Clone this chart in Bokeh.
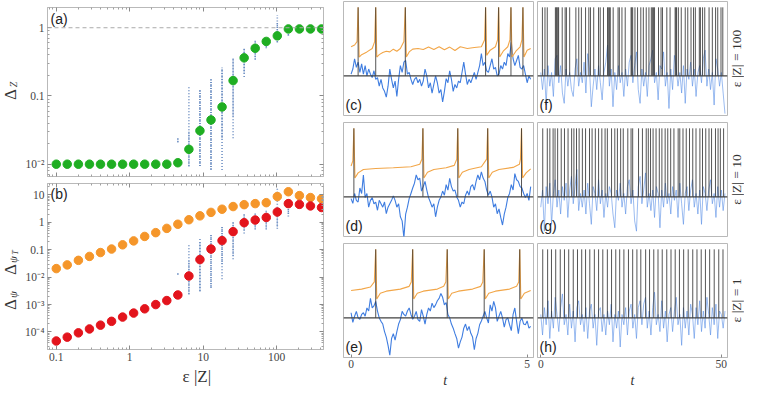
import math
import numpy as np
from bokeh.plotting import figure
from bokeh.layouts import row, column
from bokeh.models import Span, Label, FixedTicker, CustomJSTickFormatter, Range1d, LogAxis
from bokeh.embed import file_html
from bokeh.resources import INLINE

# ---------------- data: panel (a) and (b) ----------------
eps_Z = [0.1, 0.141, 0.2, 0.283, 0.4, 0.566, 0.8, 1.131, 1.6, 2.263, 3.2, 4.525,
         6.4, 9.051, 12.8, 18.1, 25.6, 36.2, 51.2, 72.4, 102.4, 144.8, 204.8, 289.6, 409.6]
delta_Z = [0.01, 0.01, 0.01, 0.01, 0.01, 0.01, 0.01, 0.01, 0.01, 0.01, 0.01, 0.0105,
           0.0165, 0.031, 0.0445, 0.069, 0.168, 0.362, 0.50, 0.63, 0.76, 0.96, 0.96, 0.96, 0.96]
delta_psiT = [0.0205, 0.028, 0.041, 0.057, 0.079, 0.106, 0.151, 0.21, 0.305, 0.42, 0.60, 0.85,
              1.24, 1.72, 2.3, 3.0, 3.75, 4.4, 4.8, 5.2, 8.7, 13.0, 9.4, 8.0, 7.2]
delta_psi = [4.7e-5, 6.5e-5, 9.3e-5, 1.29e-4, 1.78e-4, 2.45e-4, 3.5e-4, 4.9e-4, 7.0e-4, 1.0e-3,
             1.4e-3, 2.24e-3, 0.011, 0.0437, 0.106, 0.215, 0.457, 0.97, 1.21, 1.5, 2.37, 4.8, 4.5, 3.96, 3.46]

# spread of single realisations (blue dots) per eps|Z|
spread_x = [4.525, 6.4, 9.051, 12.8, 18.1, 25.6, 36.2, 51.2, 72.4, 102.4, 144.8]
zspread_lo = [0.021, 0.0093, 0.0094, 0.0082, 0.0082, 0.024, 0.19, 0.34, 0.50, 0.61, 0.76]
zspread_hi = [0.024, 0.143, 0.122, 0.177, 0.26, 0.36, 0.51, 0.65, 0.72, 1.54, 1.11]
zcore_lo = [0.021, 0.0093, 0.0094, 0.0085, 0.024, 0.05, 0.22, 0.35, 0.52, 0.62, 0.78]
zcore_hi = [0.024, 0.03, 0.12, 0.17, 0.26, 0.36, 0.50, 0.64, 0.70, 1.2, 1.05]
pspread_lo = [0.0125, 0.0024, 0.0031, 0.0043, 0.0084, 0.045, 0.39, 0.55, 0.55, 0.58, 1.63]
pspread_hi = [0.0145, 0.164, 0.246, 0.40, 0.76, 1.0, 2.13, 2.13, 2.64, 18.5, 7.2]
pcore_lo = [0.0125, 0.0024, 0.003, 0.004, 0.03, 0.06, 0.5, 0.6, 0.6, 0.7, 2.0]
pcore_hi = [0.0145, 0.04, 0.2, 0.35, 0.7, 1.0, 2.0, 2.0, 2.5, 3.0, 7.0]

# ---------------- data: time traces (c)-(e), t in [0, 5.1] ----------------
T_END_MID = 5.1
SPIKE_TOP = 2.0
BASE = 0.0
blue_c = [0.05, 0.2, 0.5, 0.25, 0.4, 0.1, 0.35, 0.05, 0.3, 0.0, 0.2, 0.05, -0.05, 0.15, -0.1,
          -0.05, -0.3, -0.1, -0.35, -0.45, -0.62, -0.3, 0.2, -0.1, -0.35, -0.15, -0.6, -0.1, 0.3,
          0.1, 0.4, 0.45, 0.05, 0.1, -0.1, -0.25, -0.1, -0.04, -0.2, -0.1, -0.3, -0.15, 0.2, 0.0,
          -0.35, -0.2, -0.5, -0.25, 0.0, -0.2, -0.5, -0.4, -0.76, -0.45, -0.08, -0.2, 0.15, -0.1,
          -0.45, -0.25, -0.35, -0.15, -0.2, 0.1, 0.4, 0.05, -0.25, -0.1, -0.2, -0.05, 0.1, -0.1,
          0.1, 0.3, 0.65, 0.3, 0.4, 0.15, 0.1, 0.3, 0.5, 0.2, 0.25, 0.0, 0.05, 0.3, 0.2, 0.4, 0.3,
          0.65, 0.55, 0.98, 0.5, 0.3, 0.45, 0.6, 0.25, 0.2, 0.3, 0.05, -0.2, 0.0, -0.1]
blue_d = [-0.05, -0.19, 0.1, -0.1, -0.15, 0.26, 0.1, 0.64, -0.02, 0.1, -0.3, -0.1, -0.02, -0.2,
          -0.15, -0.39, -0.1, -0.2, -0.3, -0.15, -0.49, -0.3, -0.2, -0.1, 0.03, -0.1, -0.3, -0.2,
          -0.58, -0.7, -1.19, -0.5, -0.3, -0.05, 0.1, 0.26, 0.4, 0.64, 0.5, 0.55, 0.17, 0.3, 0.45,
          0.2, -0.02, -0.15, -0.3, -0.2, -0.58, -0.3, -0.1, 0.0, 0.17, 0.05, 0.36, 0.2, 0.54, 0.3,
          0.17, 0.2, 0.0, -0.1, -0.3, -0.15, -0.2, 0.05, 0.17, 0.05, 0.3, 0.36, 0.2, 0.45, 0.64,
          0.5, 0.73, 0.55, 0.45, 0.2, 0.05, 0.17, 0.0, -0.3, -0.2, -0.49, -0.35, -0.6, -0.82, -0.5,
          -0.3, -0.02, 0.1, 0.36, 0.2, 0.68, 0.5, 0.45, 0.3, 0.26, 0.1, -0.02, 0.1, -0.1, 0.3]
blue_e = [0.15, -0.13, 0.05, 0.19, 0.0, -0.04, 0.1, 0.15, 0.05, 0.29, 0.2, 0.57, 0.29, 0.35, 0.48,
          0.2, 0.0, -0.1, -0.18, -0.4, -0.56, -0.8, -1.09, -0.6, -0.46, -0.65, -0.4, -0.18, -0.05,
          0.19, 0.1, 0.05, 0.2, 0.29, 0.1, -0.04, 0.05, 0.19, -0.05, -0.1, 0.24, 0.05, -0.18, 0.1,
          0.29, 0.2, 0.43, 0.3, 0.38, 0.5, 0.57, 0.71, 0.6, 0.38, 0.45, 0.1, 0.0, -0.18, -0.3, -0.46,
          -0.6, -0.88, -0.7, -0.56, -0.3, -0.18, -0.37, -0.25, -0.45, -0.56, -0.93, -0.6, -0.45,
          -0.2, -0.09, 0.05, 0.19, 0.0, -0.15, 0.38, 0.2, 0.48, 0.3, -0.1, 0.05, 0.19, 0.0, -0.27,
          -0.05, 0.0, -0.2, -0.37, 0.1, 0.29, -0.1, -0.46, -0.1, 0.0, -0.18, -0.2, -0.09, -0.3, -0.25]

orange_c_t = [0.0, 0.1, 0.17, 0.2, 0.23, 0.3, 0.45, 0.6, 0.67, 0.70, 0.73, 0.8, 0.9, 1.0, 1.1, 1.2,
              1.3, 1.4, 1.5, 1.54, 1.57, 1.65, 1.75, 1.9, 2.05, 2.2, 2.35, 2.5, 2.65, 2.8, 2.95, 3.1,
              3.3, 3.5, 3.7, 3.79, 3.82, 3.85, 3.95, 4.1, 4.16, 4.19, 4.22, 4.32, 4.45, 4.51, 4.54,
              4.57, 4.68, 4.8, 4.85, 4.88, 4.91, 5.0, 5.1]
orange_c_v = [0.85, 0.9, 1.0, 2.0, 0.55, 0.62, 0.7, 0.8, 1.0, 2.0, 0.55, 0.62, 0.68, 0.72, 0.7, 0.78,
              0.72, 0.8, 1.0, 2.0, 0.55, 0.7, 0.78, 0.8, 0.77, 0.84, 0.77, 0.85, 0.76, 0.84, 0.74, 0.85,
              0.8, 0.83, 0.85, 1.05, 2.0, 0.6, 0.75, 0.85, 1.05, 2.0, 0.55, 0.72, 0.85, 1.05, 2.0,
              0.55, 0.72, 0.85, 1.05, 2.0, 0.55, 0.75, 0.8]
orange_d_t = [0.0, 0.05, 0.08, 0.11, 0.2, 0.35, 0.7, 1.2, 1.7, 1.95, 2.01, 2.04, 2.07, 2.17, 2.35,
              2.7, 2.93, 3.0, 3.03, 3.06, 3.16, 3.35, 3.7, 3.85, 3.88, 3.91, 4.01, 4.2, 4.6, 4.78,
              4.81, 4.84, 4.87, 4.97, 5.1]
orange_d_v = [0.9, 1.05, 2.0, 0.55, 0.7, 0.8, 0.83, 0.85, 0.88, 0.95, 1.1, 2.0, 0.55, 0.72, 0.8,
              0.85, 0.92, 1.1, 2.0, 0.55, 0.72, 0.8, 0.88, 1.1, 2.0, 0.55, 0.72, 0.8, 0.86, 0.95,
              1.1, 2.0, 0.55, 0.7, 0.82]
orange_e_t = [0.0, 0.3, 0.55, 0.66, 0.70, 0.73, 0.83, 1.0, 1.4, 1.65, 1.71, 1.75, 1.78, 1.88, 2.05,
              2.45, 2.63, 2.69, 2.73, 2.76, 2.86, 3.05, 3.45, 3.68, 3.74, 3.78, 3.81, 3.91, 4.1,
              4.5, 4.7, 4.76, 4.79, 4.82, 4.92, 5.1]
orange_e_v = [0.8, 0.84, 0.9, 1.05, 2.0, 0.55, 0.72, 0.78, 0.84, 0.92, 1.05, 2.0, 0.55, 0.72, 0.78,
              0.84, 0.92, 1.05, 2.0, 0.55, 0.72, 0.78, 0.84, 0.92, 1.05, 2.0, 0.55, 0.72, 0.78,
              0.84, 0.92, 1.05, 2.0, 0.55, 0.72, 0.8]
spikes_c = [0.2, 0.70, 1.54, 3.82, 4.19, 4.54, 4.88]
spikes_d = [0.08, 2.04, 3.03, 3.88, 4.84]
spikes_e = [0.70, 1.75, 2.73, 3.78, 4.79]

# ---------------- data: time traces (f)-(h), t in [0, 51] ----------------
T_END_RIGHT = 51.0
spikes_f = [0.46, 1.17, 1.8, 4.05, 4.3, 4.5, 4.75, 4.95, 5.94, 6.75, 7.11, 8.01, 9.72, 10.52, 11.25,
            12.41, 13.31, 13.76, 14.66, 16.0, 16.46, 17.36, 18.5, 18.7, 19.0, 19.25, 20.05, 21.4,
            21.76, 22.48, 23.38, 25.0, 25.2, 25.45, 26.08, 26.8, 27.7, 28.4, 29.2, 29.95, 30.6, 30.9,
            31.2, 31.5, 32.6, 33.3, 33.7, 34.9, 35.8, 37.2, 37.4, 37.6, 38.1, 38.9, 40.0, 40.7, 41.6,
            42.3, 42.8, 43.9, 44.2, 44.8, 45.4, 46.6, 47.5, 48.4, 49.0, 49.9, 50.4]
spikes_g = [0.55, 1.81, 2.52, 3.42, 3.96, 4.68, 5.67, 6.57, 7.56, 8.55, 9.18, 9.9, 10.62, 11.52,
            12.41, 13.5, 14.21, 15.11, 16.01, 16.91, 17.81, 18.44, 19.6, 20.5, 21.22, 22.12, 22.84,
            24.1, 25.0, 25.45, 27.07, 28.15, 29.2, 29.77, 30.39, 31.1, 31.92, 32.82, 33.54, 34.44,
            35.16, 35.97, 36.87, 38.04, 38.49, 39.38, 40.28, 41.18, 42.08, 42.98, 44.06, 44.78,
            45.68, 46.58, 47.29, 48.37, 49.09, 49.72, 50.62]
spikes_h = [0.55, 1.9, 2.97, 4.14, 5.4, 6.57, 7.74, 9.0, 10.17, 11.34, 12.41, 13.58, 14.84, 16.01,
            17.18, 18.44, 19.6, 20.77, 21.85, 23.02, 24.28, 25.45, 26.62, 27.7, 29.04, 30.12, 31.29,
            32.46, 33.63, 34.89, 36.06, 37.22, 38.39, 39.56, 40.82, 42.08, 43.25, 44.42, 45.59,
            46.76, 48.02, 49.28, 50.45]
blue_f = [0.1, -0.4, 0.2, -0.85, 0.3, -0.3, 0.1, -0.6, 0.5, 0.6, -0.2, 0.3, -0.5, -0.8, 0.2, -0.3,
          0.1, -0.4, -0.6, 0.2, 0.5, -0.3, 0.1, -0.2, 0.4, -0.5, 0.65, 0.2, -0.9, -0.3, 0.2, -0.4,
          0.3, -0.2, -0.7, 0.1, 0.4, 0.9, -0.3, 0.2, -0.9, 0.1, -0.4, 0.3, -0.2, 0.1, -0.6, 0.2,
          -0.3, 0.4, 0.6, -0.2, 0.3, 0.7, -0.4, -0.8, 0.2, -0.3, 0.1, -0.6, 0.3, 0.5, 0.75, -0.2,
          0.1, -0.7, 0.3, 0.2, 0.7, -0.3, 0.1, -0.95, 0.2, -0.4, 0.6, 0.2, -0.3, 0.1, -0.5, 0.3,
          -0.8, 0.2, -0.1, 0.4, -0.3, 0.2, -0.6, 0.1, 0.3, -0.2, 0.5, 0.75, -0.3, 0.2, -0.4, 0.1,
          -0.85, 0.5, 0.2, -0.3, 0.1, -0.5, -1.1]
blue_g = [-0.3, 0.2, -1.0, 0.3, -0.2, 0.4, -0.8, 0.1, 0.5, -0.3, 0.2, -0.5, 0.3, -0.1, 0.4, -0.6,
          0.2, 0.6, -0.2, 0.3, 0.8, -0.4, 0.1, -0.3, 0.2, -0.5, 0.4, -0.2, -0.8, 0.3, 0.1, -0.4,
          0.5, -0.2, 0.2, -0.6, 0.1, -0.3, 0.3, 0.1, -0.5, -0.9, 0.2, -0.1, 0.4, -0.3, 0.1, -0.5,
          0.3, 0.5, -0.2, 0.2, -0.7, -1.0, 0.3, 0.6, -0.2, 0.2, 0.7, -0.3, 0.1, -0.4, 0.2, -0.6,
          0.3, 0.1, -0.9, 0.2, -0.3, 0.4, -0.2, 0.1, -0.5, 0.3, -0.1, 0.2, -0.6, 0.4, -0.2, -0.8,
          0.1, 0.3, -0.4, 0.2, 0.5, -0.3, 0.1, -0.5, 0.2, -0.8, 0.3, 0.1, -0.4, 0.2, 0.5, -0.2,
          0.1, -0.6, 0.3, -0.3, 0.2, -0.4, 0.1]
blue_h = [0.1, -0.5, 0.3, -0.2, 0.5, -0.6, 0.2, -0.3, 0.6, 0.1, -0.4, 0.3, 0.7, -0.2, 0.1, -0.5,
          0.4, -0.3, 0.2, -0.7, 0.3, 0.5, -0.2, 0.1, -0.4, 0.3, -0.6, 0.2, 0.4, -0.3, 0.1, -0.8,
          0.2, 0.3, -0.4, 0.1, -0.5, 0.2, -0.2, 0.4, -0.7, 0.1, -0.3, 0.2, -0.85, 0.1, -0.2, 0.3,
          -0.5, 0.2, 0.4, -0.3, 0.1, -0.6, 0.3, 0.5, -0.2, 0.4, 0.6, -0.3, 0.2, -0.5, 0.3, 0.75,
          -0.2, 0.1, -0.4, 0.5, -0.3, 0.2, -0.7, 0.1, 0.3, -0.4, 0.2, 0.6, -0.2, 0.1, -0.8, 0.3,
          -0.3, 0.2, -0.5, 0.4, 0.1, -0.6, 0.3, -0.2, 0.5, -0.4, 0.2, -0.3, 0.6, 0.1, -0.5, 0.3,
          -0.2, 0.4, -0.6, 0.2, 0.1, -0.3, 0.2]

# ---------------- style ----------------
GREEN = "#1fae22"
ORANGE = "#f5962a"
RED = "#e3141c"
DOTS = "#5f84bd"
TRACE_BLUE = "#3f7de0"
TRACE_ORANGE = "#f2a648"
FRAME = "#b9b9b9"
TXT = "#333333"
SERIF = "Liberation Serif"
SANS = "Liberation Sans"


def dpos(rng, length, off, log=False):
    lo, hi = rng
    if log:
        a, b = math.log10(lo), math.log10(hi)
        return 10 ** (a + off / length * (b - a))
    return lo + off / length * (hi - lo)


def style_axis(ax, labels=True):
    ax.axis_line_color = FRAME
    ax.major_tick_line_color = "#8a8a8a"
    ax.minor_tick_line_color = "#a0a0a0"
    ax.major_tick_in = 4
    ax.major_tick_out = 0
    ax.minor_tick_in = 2
    ax.minor_tick_out = 0
    ax.major_label_text_font = SERIF
    if labels:
        ax.major_label_text_color = "#444444"
        ax.major_label_text_font_size = "11.5px"
        ax.major_label_standoff = 3
    else:
        ax.major_label_text_alpha = 0.0
        ax.major_label_text_font_size = "1px"
        ax.major_label_standoff = 0


def base_fig(w, h, xr, yr, bl, br, bt, bb, xt="linear", yt="linear", xloc="below", yloc="left"):
    p = figure(width=w, height=h, x_range=xr, y_range=yr, x_axis_type=xt, y_axis_type=yt,
               x_axis_location=xloc, y_axis_location=yloc,
               output_backend="svg", toolbar_location=None,
               min_border_left=bl, min_border_right=br, min_border_top=bt, min_border_bottom=bb)
    p.grid.visible = False
    p.outline_line_color = FRAME
    p.outline_line_width = 1
    p.background_fill_color = "white"
    p.border_fill_color = "white"
    return p


def strip(w, h):
    """Blank figure used only to carry axis titles (pixel data coordinates)."""
    p = figure(width=w, height=h, x_range=Range1d(0, w), y_range=Range1d(0, h),
               x_axis_location=None, y_axis_location=None, output_backend="svg",
               toolbar_location=None, min_border=0, min_border_left=0, min_border_right=0,
               min_border_top=0, min_border_bottom=0)
    p.grid.visible = False
    p.outline_line_color = None
    p.background_fill_color = "white"
    p.border_fill_color = "white"
    return p


def tlabel(p, x, y, text, size, style="normal", font=SERIF, angle=0.0):
    p.add_layout(Label(x=x, y=y, text=text, text_font=font, text_font_size=size,
                       text_font_style=style, text_color=TXT, angle=angle,
                       text_align="center", text_baseline="middle"))


def minors(d0, d1):
    return [m * 10.0 ** d for d in range(d0, d1 + 1) for m in range(2, 10)]


def log_fmt():
    return CustomJSTickFormatter(code="""
const e = Math.round(Math.log10(tick));
if (e >= 0) { return String(Math.round(tick)); }
if (e == -1) { return "0.1"; }
const sup = {"-2": "\u207b\u00b2", "-3": "\u207b\u00b3", "-4": "\u207b\u2074"};
return "10" + sup[String(e)];
""")


def frame_ticks(p, xticker, yticker):
    """Mirror ticks on the top and right edges of a frame (no labels)."""
    top = LogAxis(ticker=xticker)
    right = LogAxis(ticker=yticker)
    style_axis(top, labels=False)
    style_axis(right, labels=False)
    p.add_layout(top, "above")
    p.add_layout(right, "right")


XR = (0.0759, 436.0)
YR_A = (0.0066, 1.98)
YR_B = (2.3e-5, 26.0)
FW_L = 276
VERT = math.pi / 2
X_MAJOR = [0.1, 1, 10, 100]
LEFT_W = 20

# ---------------- panel (a) ----------------
pa = base_fig(305, 180, Range1d(*XR), Range1d(*YR_A), 27, 2, 7, 4, "log", "log")
FH_A = 169
pa.xaxis.ticker = FixedTicker(ticks=X_MAJOR, minor_ticks=minors(-2, 2))
pa.yaxis.ticker = FixedTicker(ticks=[0.01, 0.1, 1], minor_ticks=minors(-3, 0))
style_axis(pa.xaxis[0], labels=False)
style_axis(pa.yaxis[0])
pa.yaxis.formatter = log_fmt()
frame_ticks(pa, FixedTicker(ticks=X_MAJOR, minor_ticks=minors(-2, 2)),
            FixedTicker(ticks=[0.01, 0.1, 1], minor_ticks=minors(-3, 0)))
pa.add_layout(Span(location=1.0, dimension="width", line_color="#aaaaaa", line_dash="4 3", line_width=1))
pa.segment(spread_x, zspread_lo, spread_x, zspread_hi, line_color=DOTS, line_width=1.6, line_dash="1 2", line_alpha=0.9)
pa.segment(spread_x, zcore_lo, spread_x, zcore_hi, line_color=DOTS, line_width=1.4, line_dash="1 1", line_alpha=0.9)
pa.scatter(eps_Z, delta_Z, size=8.5, color=GREEN, line_color=GREEN)
pa.add_layout(Label(x=dpos(XR, FW_L, 3, True), y=dpos(YR_A, FH_A, FH_A - 3, True), text="(a)",
                    text_font=SANS, text_font_size="14px", text_color="#222222", text_baseline="top"))

# ---------------- panel (b) ----------------
pb = base_fig(305, 185, Range1d(*XR), Range1d(*YR_B), 27, 2, 3, 16, "log", "log")
FH_B = 166
pb.xaxis.ticker = FixedTicker(ticks=X_MAJOR, minor_ticks=minors(-2, 2))
pb.yaxis.ticker = FixedTicker(ticks=[1e-4, 1e-3, 1e-2, 0.1, 1, 10], minor_ticks=minors(-5, 1))
style_axis(pb.xaxis[0])
style_axis(pb.yaxis[0])
pb.xaxis.formatter = log_fmt()
pb.yaxis.formatter = log_fmt()
frame_ticks(pb, FixedTicker(ticks=X_MAJOR, minor_ticks=minors(-2, 2)),
            FixedTicker(ticks=[1e-4, 1e-3, 1e-2, 0.1, 1, 10], minor_ticks=minors(-5, 1)))
pb.segment(spread_x, pspread_lo, spread_x, pspread_hi, line_color=DOTS, line_width=1.6, line_dash="1 2", line_alpha=0.9)
pb.segment(spread_x, pcore_lo, spread_x, pcore_hi, line_color=DOTS, line_width=1.4, line_dash="1 1", line_alpha=0.9)
pb.scatter(eps_Z, delta_psiT, size=8.5, color=ORANGE, line_color=ORANGE)
pb.scatter(eps_Z, delta_psi, size=8.5, color=RED, line_color=RED)
pb.add_layout(Label(x=dpos(XR, FW_L, 3, True), y=dpos(YR_B, FH_B, FH_B - 2, True), text="(b)",
                    text_font=SANS, text_font_size="14px", text_color="#222222", text_baseline="top"))

# ---------------- axis-title strips for the left column ----------------
s_left = strip(LEFT_W, 388)
tlabel(s_left, 10.0, 294, "Δ", "17px", angle=VERT)
tlabel(s_left, 12.5, 304, "Z", "10px", style="italic", angle=VERT)
tlabel(s_left, 10.0, 84, "Δ", "17px", angle=VERT)
tlabel(s_left, 12.5, 94, "ψ", "11px", style="italic", angle=VERT)
tlabel(s_left, 10.0, 119, "Δ", "17px", angle=VERT)
tlabel(s_left, 12.5, 129, "ψ", "11px", style="italic", angle=VERT)
tlabel(s_left, 15.0, 136, "T", "8px", style="italic", angle=VERT)
s_left_bottom = strip(305, 23)
tlabel(s_left_bottom, 165, 12, "ε |Z|", "17px")

# ---------------- time-trace panels ----------------
XR_MID = (-0.215, 5.18)
XR_RIGHT = (-0.9, 51.7)
YR_T = (-1.155, 2.17)
FW_T = 190
FH_T = 114


def trace_panel(w, h, xr, bl, br, bt, bb, blue, t_end, spikes, orange_t=None, orange_v=None,
                bottom_axis=False, light=False, letter="", ticks=None):
    p = base_fig(w, h, Range1d(*xr), Range1d(*YR_T), bl, br, bt, bb,
                 xloc=("below" if bottom_axis else None), yloc=None)
    tt = np.linspace(0.0, t_end, len(blue))
    if light:
        p.line(tt, blue, line_color="#5a90e6", line_width=1.0, line_alpha=0.6)
    else:
        p.line(tt, blue, line_color=TRACE_BLUE, line_width=1.1)
    p.add_layout(Span(location=BASE, dimension="width", line_color="#404040", line_width=1.2))
    if orange_t is not None:
        p.line(orange_t, orange_v, line_color=TRACE_ORANGE, line_width=1.1)
    p.segment(spikes, [BASE] * len(spikes), spikes, [SPIKE_TOP] * len(spikes),
              line_color="#2a2a2a", line_width=1.0, line_alpha=0.8)
    p.add_layout(Label(x=dpos(xr, FW_T, 2), y=dpos(YR_T, FH_T, 3), text=letter,
                       text_font=SANS, text_font_size="14px", text_color="#222222", text_baseline="bottom"))
    if bottom_axis:
        ax = p.xaxis[0]
        style_axis(ax)
        ax.ticker = FixedTicker(ticks=ticks, minor_ticks=[])
        ax.major_tick_in = 3
        ax.major_label_standoff = 2
    return p


pc = trace_panel(210, 118, XR_MID, 18, 2, 1, 3, blue_c, T_END_MID, spikes_c, orange_c_t, orange_c_v, letter="(c)")
pd_ = trace_panel(210, 121, XR_MID, 18, 2, 4, 3, blue_d, T_END_MID, spikes_d, orange_d_t, orange_d_v, letter="(d)")
pe = trace_panel(210, 133, XR_MID, 18, 2, 4, 15, blue_e, T_END_MID, spikes_e, orange_e_t, orange_e_v,
                 bottom_axis=True, letter="(e)", ticks=[0, 5])
s_mid_bottom = strip(210, 16)
tlabel(s_mid_bottom, 112.5, 8, "t", "14px", style="italic")

pf = trace_panel(193, 118, XR_RIGHT, 2, 1, 1, 3, blue_f, T_END_RIGHT, spikes_f, light=True, letter="(f)")
pg = trace_panel(193, 121, XR_RIGHT, 2, 1, 4, 3, blue_g, T_END_RIGHT, spikes_g, light=True, letter="(g)")
ph = trace_panel(193, 133, XR_RIGHT, 2, 1, 4, 15, blue_h, T_END_RIGHT, spikes_h, light=True,
                 bottom_axis=True, letter="(h)", ticks=[0, 50])
s_right_bottom = strip(193, 16)
tlabel(s_right_bottom, 96.5, 8, "t", "14px", style="italic")

s_right = strip(16, 388)
tlabel(s_right, 8, 330, "ε |Z| = 100", "13.5px", angle=VERT)
tlabel(s_right, 8, 209, "ε |Z| = 10", "13.5px", angle=VERT)
tlabel(s_right, 8, 88, "ε |Z| = 1", "13.5px", angle=VERT)

layout = row(s_left,
             column(pa, pb, s_left_bottom, spacing=0),
             column(pc, pd_, pe, s_mid_bottom, spacing=0),
             column(pf, pg, ph, s_right_bottom, spacing=0),
             s_right, spacing=0)
open("out.html", "w").write(file_html(layout, INLINE))
